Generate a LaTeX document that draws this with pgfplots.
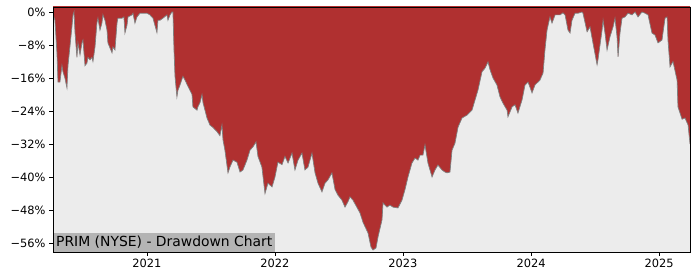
\documentclass[border=0pt]{standalone}
\usepackage{pgfplots}
\pgfplotsset{compat=1.18}
\usepackage{pgfplotstable}
\usepgfplotslibrary{fillbetween}
\usepackage{fontspec}
\setmainfont{DejaVu Sans}
\definecolor{ddred}{HTML}{B03030}
\definecolor{bgc}{HTML}{ECECEC}
\definecolor{lbl}{HTML}{B4B4B4}
\pgfplotstableread{
x y
2020.266 0
2020.273 -1.2
2020.281 -2
2020.297 -10
2020.305 -17
2020.320 -17
2020.336 -13
2020.344 -14.5
2020.359 -16
2020.375 -18.4
2020.383 -13
2020.398 -8.5
2020.414 -3.6
2020.422 -0.7
2020.430 0
2020.438 -5
2020.453 -11
2020.461 -7.5
2020.477 -10.4
2020.492 -7.5
2020.500 -6.8
2020.516 -13
2020.531 -12.4
2020.539 -11
2020.555 -11.6
2020.570 -11
2020.578 -12
2020.594 -8.5
2020.609 -2.7
2020.617 -1.5
2020.633 -4.4
2020.648 -2.7
2020.656 -0.7
2020.672 -2
2020.688 -4.4
2020.695 -7.5
2020.727 -9.9
2020.734 -8.5
2020.750 -9.2
2020.766 -2.7
2020.773 -1.5
2020.805 -1.5
2020.820 -1.2
2020.828 -5.1
2020.844 -3.2
2020.852 -1.2
2020.883 -0.7
2020.891 -0.3
2020.906 -2.7
2020.922 -1.2
2020.945 -0.3
2021.000 -0.3
2021.023 -0.7
2021.047 -1.5
2021.078 -5
2021.086 -2
2021.102 -2
2021.125 -1.5
2021.156 -0.7
2021.164 -2
2021.180 -0.7
2021.195 0
2021.203 0
2021.211 -9
2021.219 -15.6
2021.234 -20.6
2021.242 -19
2021.258 -17.7
2021.281 -15.6
2021.297 -16.5
2021.320 -18
2021.352 -20
2021.359 -23
2021.391 -23.8
2021.398 -23
2021.414 -22
2021.430 -20
2021.438 -22
2021.469 -25.7
2021.492 -27.4
2021.516 -28
2021.547 -29
2021.570 -30
2021.586 -27.4
2021.594 -31
2021.609 -33.5
2021.633 -39
2021.648 -37.6
2021.672 -35.9
2021.703 -36.4
2021.727 -38.8
2021.750 -38.3
2021.781 -35.9
2021.805 -33.5
2021.828 -32.7
2021.852 -31.5
2021.867 -35
2021.898 -37.6
2021.922 -44
2021.945 -41.5
2021.977 -42.4
2022.000 -40
2022.023 -36.4
2022.055 -37
2022.078 -35
2022.102 -36.6
2022.133 -34.2
2022.156 -38.3
2022.180 -35.9
2022.211 -34.2
2022.234 -38.3
2022.258 -37.6
2022.289 -34.2
2022.313 -39
2022.336 -41.5
2022.367 -43.6
2022.391 -41.5
2022.414 -40.7
2022.445 -39
2022.469 -43
2022.492 -44.4
2022.523 -45.6
2022.547 -47.3
2022.570 -46
2022.586 -44.8
2022.609 -45.6
2022.664 -48.7
2022.688 -51
2022.727 -53.6
2022.750 -57
2022.766 -57.7
2022.789 -57.2
2022.805 -54.5
2022.836 -50.4
2022.844 -46.3
2022.875 -47.3
2022.898 -46.8
2022.922 -47.3
2022.961 -47.5
2022.992 -45.6
2023.016 -43
2023.039 -40
2023.070 -36.6
2023.094 -35.4
2023.117 -35.9
2023.133 -34.7
2023.156 -34.7
2023.172 -32.2
2023.195 -36.6
2023.227 -40
2023.250 -38.3
2023.273 -37.1
2023.305 -38.3
2023.328 -38.8
2023.344 -39
2023.367 -38.8
2023.383 -33.5
2023.406 -31.8
2023.430 -27.9
2023.461 -25.7
2023.500 -25
2023.539 -23.8
2023.563 -21.3
2023.586 -18.9
2023.617 -14.5
2023.641 -13.6
2023.664 -12.1
2023.680 -14
2023.703 -16
2023.734 -17.7
2023.758 -20.6
2023.781 -22.1
2023.813 -23.8
2023.820 -25.4
2023.852 -23
2023.875 -22.5
2023.898 -24.5
2023.930 -21.3
2023.953 -17.7
2023.977 -17
2024.008 -19.6
2024.031 -17.7
2024.070 -16.5
2024.094 -14.8
2024.109 -9.2
2024.125 -4.4
2024.148 -1.2
2024.164 -2.7
2024.188 -0.7
2024.227 -0.7
2024.250 -0.2
2024.266 -0.7
2024.289 -4.4
2024.305 -5.1
2024.320 -2
2024.344 -0.3
2024.367 -0.3
2024.398 0
2024.406 -0.3
2024.438 -4.8
2024.461 -3.6
2024.484 -7.5
2024.516 -12.8
2024.523 -11.6
2024.555 -4.4
2024.563 -2
2024.578 -5.1
2024.594 -9.2
2024.617 -6
2024.641 -3.6
2024.656 -1.5
2024.672 -6
2024.680 -10.9
2024.695 -5.1
2024.711 -1.5
2024.734 -1.2
2024.758 -0.3
2024.789 -0.7
2024.813 0
2024.836 -1.2
2024.867 0
2024.891 -0.3
2024.914 -0.7
2024.945 -5.1
2024.969 -5.6
2024.992 -7.5
2025.023 -6.8
2025.047 -1.5
2025.063 -1.2
2025.070 -6.8
2025.086 -13.3
2025.109 -12
2025.141 -16.5
2025.148 -23
2025.180 -26
2025.203 -25.7
2025.227 -27.4
2025.242 -32
}\dd
\begin{document}
\fontsize{11.4bp}{13bp}\selectfont
\begin{tikzpicture}
\begin{axis}[at={(0,0)}, anchor=south west, scale only axis,
 width=637bp, height=245bp,
 xmin=0.266, xmax=5.242, ymin=-58.18, ymax=1.21,
 axis background/.style={fill=bgc},
 xtick={1,2,3,4,5},
 xticklabels={2021,2022,2023,2024,2025},
 ytick={-56,-48,-40,-32,-24,-16,-8,0},
 yticklabels={−56\%,−48\%,−40\%,−32\%,−24\%,−16\%,−8\%,0\%},
 tick align=outside, tick pos=left, major tick length=3.5bp,
 tick style={black, line width=0.8bp},
 axis line style={line width=0.8bp},
 ticklabel style={font=\fontsize{11.4bp}{13bp}\selectfont},
 axis on top,
]
\addplot[name path=dd, draw=none] table[x expr=\thisrow{x}-2020, y=y] {\dd};
\addplot[name path=top, draw=none] coordinates {(0.2,2) (5.3,2)};
\addplot[ddred] fill between[of=dd and top];
\addplot[draw=gray, line width=0.7bp] table[x expr=\thisrow{x}-2020, y=y] {\dd};
\node[anchor=south west, fill=lbl, inner xsep=3bp, inner ysep=3bp, font=\fontsize{13.9bp}{15bp}\selectfont] at (rel axis cs:0,0) {PRIM (NYSE) - Drawdown Chart};
\end{axis}
\path (-53bp,-28bp) rectangle (647bp,252bp);
\end{tikzpicture}
\end{document}
